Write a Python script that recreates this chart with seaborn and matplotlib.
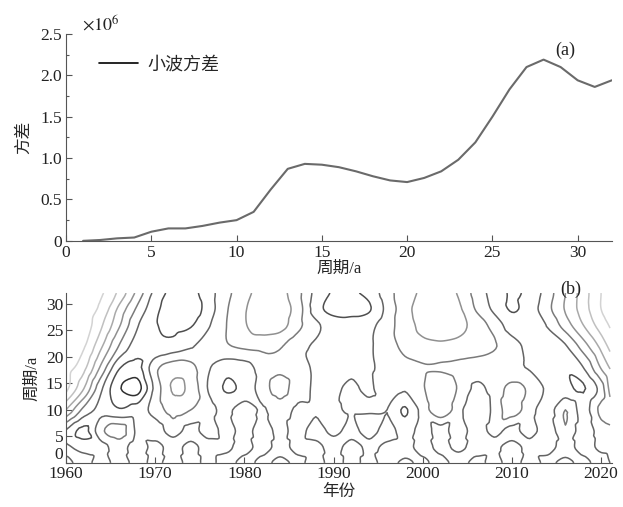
import numpy as np
import pandas as pd
import matplotlib
matplotlib.use("Agg")
import matplotlib.pyplot as plt
import matplotlib.tri as tri
from matplotlib.ticker import MultipleLocator
from matplotlib.colors import Normalize
import seaborn as sns

# ---------------- data ----------------
# (a) wavelet variance vs period
periods = list(range(1, 33))
variance = [0.00, 0.01, 0.03, 0.04, 0.11, 0.15, 0.15, 0.18, 0.22, 0.25,
            0.35, 0.62, 0.87, 0.93, 0.92, 0.89, 0.84, 0.78, 0.73, 0.71,
            0.76, 0.84, 0.98, 1.19, 1.50, 1.83, 2.10, 2.19, 2.10, 1.94,
            1.86, 1.94]

# (b) wavelet coefficient field, read by eye on a coarse grid
years = [1960, 1962, 1964, 1966, 1968, 1970, 1972, 1974, 1976, 1978,
         1980, 1982, 1984, 1986, 1988, 1990, 1992, 1994, 1996, 1998,
         2000, 2002, 2004, 2006, 2008, 2010, 2012, 2014, 2016, 2018,
         2020, 2021]
scales = [0, 3, 6, 10, 14, 18, 22, 26, 29, 32]

coef_p0 = [0.9, 0.1, 1.0, 0.0, 0.9, 0.2, 1.0, 0.1, 0.8, 0.0, 1.0, 0.1, 0.9, 0.2, 1.0, 0.0,
           0.9, 0.1, 1.0, 0.2, 0.8, 0.0, 1.0, 0.1, 0.9, 0.0, 1.0, 0.2, 0.9, 0.1, 1.0, 0.5]
coef_p3 = [0.3, 0.9, 0.8, 0.1, 1.0, 0.2, 0.9, 0.2, 1.0, 0.8, 0.0, 1.0, 0.1, 0.9, 0.9, 0.0,
           1.0, 0.2, 0.8, 1.0, 0.0, 0.9, 0.2, 1.0, 0.8, 0.1, 0.9, 1.0, 0.0, 1.0, 0.2, 0.1]
coef_p6 = [0.6, 1.8, -0.3, -1.0, 0.7, 1.0, 0.1, 0.9, 0.0, 0.9, 0.1, 1.0, 0.2, 0.9, 0.0, 0.8,
           0.1, 1.0, 0.0, 1.0, 0.1, 0.9, 0.0, 1.0, 0.2, 0.9, 0.0, 1.2, -0.4, 1.1, 0.0, -0.2]
coef_p10 = [-2.5, -0.2, 0.8, 1.4, 1.0, 0.1, -0.9, -0.5, 0.2, 0.7, 0.0, 0.6, 0.0, 0.7, 0.6, 0.6,
            0.4, 0.4, 0.5, 1.6, 0.1, -1.3, 0.1, 1.5, 0.2, -1.0, 0.1, 1.0, -0.5, 0.9, -0.8, -1.2]
coef_p14 = [-4.8, -2.5, 0.4, 2.4, 2.9, 0.2, -1.6, -1.2, 0.6, 1.6, 1.2, 0.0, -0.9, 0.1, 0.6, 0.6,
            0.4, 0.6, 0.1, 0.4, -0.4, -1.2, -0.4, 0.7, 0.1, -0.8, -0.3, 0.7, 1.2, 1.6, 0.0, -1.8]
coef_p18 = [-5.0, -3.8, -1.2, 1.4, 1.8, -0.2, -1.0, -0.8, 0.4, 1.1, 0.9, 0.1, -0.3, 0.2, 0.6, 0.7,
            0.6, 0.6, 0.2, -0.2, -0.4, -0.4, -0.2, 0.0, 0.1, 0.3, 0.6, 1.0, 1.3, 0.5, -1.6, -2.6]
coef_p22 = [-5.0, -4.6, -2.6, -0.4, 1.0, 1.3, 1.1, 0.6, 0.0, -0.4, -0.7, -0.8, -0.6, 0.2, 0.6, 0.7,
            0.7, 0.6, 0.0, -0.8, -1.2, -1.3, -1.2, -1.0, -0.6, 0.1, 0.8, 1.3, 0.6, -1.0, -2.8, -3.8]
coef_p26 = [-5.0, -5.0, -3.6, -1.6, 0.4, 1.4, 1.8, 1.6, 0.6, -0.5, -1.4, -2.0, -1.9, -0.8, 0.3, 0.9,
            1.0, 0.8, -0.1, -1.0, -1.8, -2.1, -1.8, -1.1, -0.1, 1.0, 1.3, 0.4, -1.0, -2.5, -4.0, -4.6]
coef_p29 = [-5.0, -5.0, -4.2, -2.2, -0.3, 1.2, 2.1, 2.1, 1.0, -0.4, -1.4, -2.0, -2.0, -1.0, 1.0, 1.9,
            1.9, 1.6, 0.2, -1.1, -2.0, -2.3, -1.7, -0.4, 0.7, 1.6, 1.0, -0.2, -1.6, -3.0, -4.5, -5.0]
coef_p32 = [-5.0, -5.0, -4.6, -3.2, -1.2, 0.8, 1.8, 1.8, 0.9, -0.2, -1.2, -1.8, -1.8, -0.8, 0.8, 1.6,
            1.6, 1.2, -0.1, -1.0, -1.7, -2.0, -1.4, -0.1, 0.9, 1.6, 1.2, 0.0, -1.5, -3.0, -4.5, -5.0]

coef = np.array([coef_p0, coef_p3, coef_p6, coef_p10, coef_p14,
                 coef_p18, coef_p22, coef_p26, coef_p29, coef_p32])

df_var = pd.DataFrame({"period": periods, "variance": variance})

# ---------------- style ----------------
sns.set_style("ticks")
plt.rcParams["font.family"] = ["Liberation Serif", "Noto Sans CJK SC"]
plt.rcParams["mathtext.fontset"] = "stix"
plt.rcParams["axes.edgecolor"] = "#555555"
plt.rcParams["xtick.color"] = "#555555"
plt.rcParams["ytick.color"] = "#555555"
plt.rcParams["xtick.labelcolor"] = "#222222"
plt.rcParams["ytick.labelcolor"] = "#222222"
plt.rcParams["xtick.direction"] = "in"
plt.rcParams["ytick.direction"] = "in"

fig = plt.figure(figsize=(6.23, 5.07), dpi=100)
ax1 = fig.add_axes([0.106, 0.525, 0.876, 0.408])
ax2 = fig.add_axes([0.106, 0.087, 0.876, 0.335])

# ---------------- (a) variance ----------------
sns.lineplot(data=df_var, x="period", y="variance", ax=ax1, color="#6a6a6a",
             linewidth=1.5, label="小波方差")
ax1.set_xlim(0, 32)
ax1.set_ylim(0, 2.5)
ax1.xaxis.set_major_locator(MultipleLocator(5))
ax1.set_yticks([0, 0.5, 1.0, 1.5, 2.0, 2.5], ["0", "0.5", "1.0", "1.5", "2.0", "2.5"])
ax1.yaxis.set_minor_locator(MultipleLocator(0.25))
ax1.tick_params(axis="both", which="major", length=4, width=0.8, labelsize=12.5, pad=3)
ax1.tick_params(axis="y", which="minor", length=2.5, width=0.8)
ax1.set_xlabel("周期/a", fontsize=12, labelpad=0)
ax1.set_ylabel("方差", fontsize=12, labelpad=6)
sns.despine(ax=ax1)
leg = ax1.legend(loc="upper left", bbox_to_anchor=(0.03, 0.97), frameon=False,
                 fontsize=13, handlelength=2.2, handletextpad=0.5)
for line in leg.get_lines():
    line.set_color("black")
    line.set_linewidth(1.2)
ax1.text(0.03, 1.0, r"$\times10^{6}$", transform=ax1.transAxes,
         fontsize=13, ha="left", va="bottom", color="#222222")
ax1.text(0.915, 0.92, "(a)", transform=ax1.transAxes, fontsize=13,
         ha="center", va="center", color="#222222")

# ---------------- (b) wavelet coefficients ----------------
gx, gy = np.meshgrid(years, scales)
triang = tri.Triangulation(gx.ravel(), gy.ravel())
interp = tri.CubicTriInterpolator(triang, coef.ravel(), kind="geom")
tri_fine, z_fine = tri.UniformTriRefiner(triang).refine_field(
    coef.ravel(), triinterpolator=interp, subdiv=3)
ax2.tricontour(tri_fine, z_fine, levels=np.arange(-4.5, 3.0, 1.0),
               cmap="Greys", norm=Normalize(vmin=-8, vmax=4.5), linewidths=1.1)
ax2.set_xlim(1960, 2021.2)
ax2.set_ylim(0, 32)
ax2.xaxis.set_major_locator(MultipleLocator(10))
ax2.set_yticks([0, 5, 10, 15, 20, 25, 30])
ax2.tick_params(axis="both", which="major", length=4, width=0.8, labelsize=12.5, pad=2)
ax2.get_yticklabels()[0].set_verticalalignment("bottom")
ax2.set_xlabel("年份", fontsize=12, labelpad=2)
ax2.set_ylabel("周期/a", fontsize=12, labelpad=4)
sns.despine(ax=ax2)
ax2.text(0.925, 1.02, "(b)", transform=ax2.transAxes, fontsize=13,
         ha="center", va="center", color="#222222")

fig.savefig("out.png", dpi=100)
